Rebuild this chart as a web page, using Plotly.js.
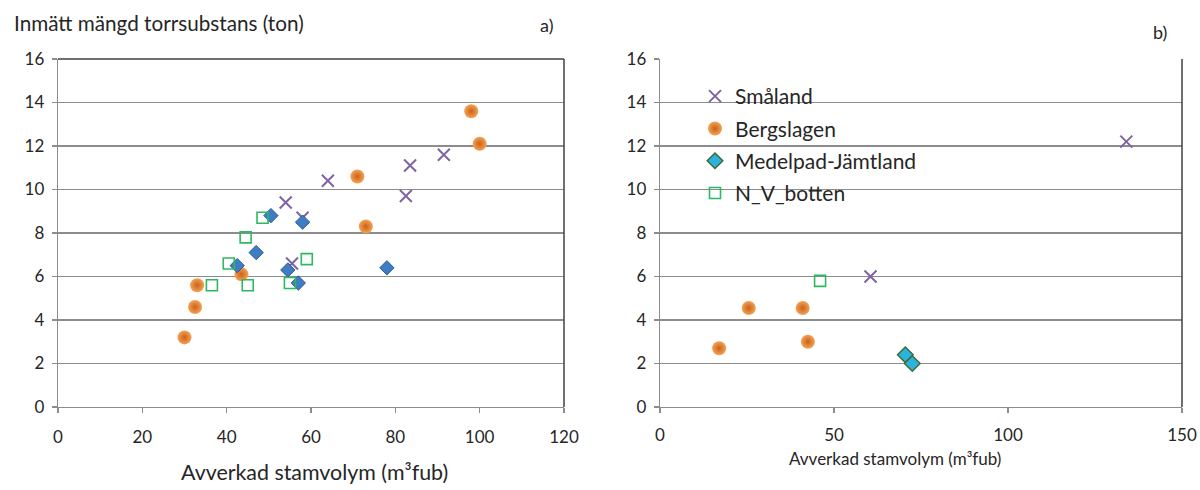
<!DOCTYPE html>
<html>
<head>
<meta charset="utf-8">
<script src="https://cdn.plot.ly/plotly-3.0.1.min.js"></script>
<style>html,body{margin:0;padding:0;background:#fff;}#chart{width:1200px;height:490px;}</style>
</head>
<body>
<div id="chart"></div>
<script>
// ---- Panel a) data ----
const smalandA_x = [64, 54, 83.5, 91.5, 82.5, 58, 55.5];
const smalandA_y = [10.4, 9.4, 11.1, 11.6, 9.7, 8.7, 6.6];
const bergslagenA_x = [98, 100, 71, 73, 43.5, 33, 32.5, 30];
const bergslagenA_y = [13.6, 12.1, 10.6, 8.3, 6.1, 5.6, 4.6, 3.2];
const medelpadA_x = [50.5, 58, 47, 42.5, 54.5, 57, 78];
const medelpadA_y = [8.8, 8.5, 7.1, 6.5, 6.3, 5.7, 6.4];
const nvbottenA_x = [48.5, 44.5, 40.5, 36.5, 45, 55, 59];
const nvbottenA_y = [8.7, 7.8, 6.6, 5.6, 5.6, 5.7, 6.8];

// ---- Panel b) data ----
const smalandB_x = [134, 60.5];
const smalandB_y = [12.2, 6.0];
const bergslagenB_x = [17, 25.5, 41, 42.5];
const bergslagenB_y = [2.7, 4.55, 4.55, 3.0];
const medelpadB_x = [70.5, 72.5];
const medelpadB_y = [2.4, 2.0];
const nvbottenB_x = [46];
const nvbottenB_y = [5.8];

const seriesNames = ['Småland', 'Bergslagen', 'Medelpad-Jämtland', 'N_V_botten'];
const xTicksA = [0, 20, 40, 60, 80, 100, 120];
const xTicksB = [0, 50, 100, 150];
const yTicks = [0, 2, 4, 6, 8, 10, 12, 14, 16];

const FONT = 'Lato, "Open Sans", sans-serif';
const TXT = '#262626';
const GRID = '#8c8c8c';

const smStyle = {symbol: 'x-thin', size: 12, color: '#8064A2', line: {color: '#8064A2', width: 2}};
const bgStyle = {symbol: 'circle', size: 14, color: '#F5A254', gradient: {type: 'radial', color: '#C8621A'}, line: {width: 0}};
const mdStyleA = {symbol: 'diamond', size: 11, color: '#3F7CC4', line: {color: '#2A5A94', width: 1}};
const mdStyleB = {symbol: 'diamond', size: 12, color: '#2BB3DC', line: {color: '#3E6B38', width: 1.5}};
const nvStyle = {symbol: 'square-open', size: 11, color: '#2EB862', line: {color: '#2EB862', width: 1.6}};

function tr(x, y, name, marker, xa, ya, show, grp) {
  return {type: 'scatter', mode: 'markers', x: x, y: y, name: name, marker: marker,
          xaxis: xa, yaxis: ya, showlegend: show, legendgroup: grp, hoverinfo: 'x+y'};
}

const data = [
  tr(smalandA_x, smalandA_y, seriesNames[0], smStyle, 'x', 'y', false, 'a1'),
  tr(bergslagenA_x, bergslagenA_y, seriesNames[1], bgStyle, 'x', 'y', false, 'a2'),
  tr(medelpadA_x, medelpadA_y, seriesNames[2], mdStyleA, 'x', 'y', false, 'a3'),
  tr(nvbottenA_x, nvbottenA_y, seriesNames[3], nvStyle, 'x', 'y', false, 'a4'),
  tr(smalandB_x, smalandB_y, seriesNames[0], smStyle, 'x2', 'y2', true, 'g1'),
  tr(bergslagenB_x, bergslagenB_y, seriesNames[1], bgStyle, 'x2', 'y2', true, 'g2'),
  tr(medelpadB_x, medelpadB_y, seriesNames[2], mdStyleB, 'x2', 'y2', true, 'g3'),
  tr(nvbottenB_x, nvbottenB_y, seriesNames[3], nvStyle, 'x2', 'y2', true, 'g4')
];

const W = 1200, H = 490;
const px = v => v / W, py = v => (H - v) / H;

function xax(domain, range, ticks, anchor, standoff) {
  return {domain: domain, range: range, tickvals: ticks, ticktext: ticks.map(String),
    showgrid: false, zeroline: false, showline: true, linecolor: GRID, linewidth: 1.3,
    ticks: 'outside', ticklen: 5, tickcolor: GRID, tickwidth: 1.3, ticklabelstandoff: standoff,
    tickfont: {family: FONT, size: 17, color: TXT}, anchor: anchor, fixedrange: true};
}
function yax(range, anchor) {
  return {domain: [py(407), py(59)], range: range, tickvals: yTicks, ticktext: yTicks.map(String),
    showgrid: true, gridcolor: GRID, gridwidth: 1.3, zeroline: false, showline: true,
    linecolor: GRID, linewidth: 1.3, ticks: 'outside', ticklen: 5, tickcolor: GRID, tickwidth: 1.3,
    ticklabelstandoff: 4, tickfont: {family: FONT, size: 17, color: TXT}, anchor: anchor, fixedrange: true};
}

const layout = {
  width: W, height: H,
  margin: {l: 0, r: 0, t: 0, b: 0},
  paper_bgcolor: '#ffffff', plot_bgcolor: '#ffffff',
  font: {family: FONT, color: TXT},
  xaxis: xax([px(58), px(564)], [0, 120], xTicksA, 'y', 9),
  yaxis: yax([0, 16], 'x'),
  xaxis2: xax([px(660), px(1182)], [0, 150], xTicksB, 'y2', 7),
  yaxis2: yax([0, 16], 'x2'),
  showlegend: true,
  legend: {x: px(695), y: py(76), xanchor: 'left', yanchor: 'top', bgcolor: 'rgba(0,0,0,0)',
    font: {family: FONT, size: 21, color: TXT}, tracegroupgap: 2, itemclick: false},
  shapes: [
    {type: 'line', xref: 'x domain', yref: 'y domain', x0: 0, x1: 1, y0: 1, y1: 1, line: {color: '#404040', width: 1.5}},
    {type: 'line', xref: 'x domain', yref: 'y domain', x0: 1, x1: 1, y0: 0, y1: 1, line: {color: '#404040', width: 1.5}},
    {type: 'line', xref: 'x2 domain', yref: 'y2 domain', x0: 1, x1: 1, y0: 0, y1: 1, line: {color: '#404040', width: 1.5}}
  ],
  annotations: [
    {text: 'Inmätt mängd torrsubstans (ton)', xref: 'paper', yref: 'paper', x: px(12), y: py(23),
     xanchor: 'left', yanchor: 'middle', showarrow: false, font: {family: FONT, size: 20.7, color: TXT}},
    {text: 'a)', xref: 'paper', yref: 'paper', x: px(546), y: py(25), xanchor: 'center', yanchor: 'middle',
     showarrow: false, font: {family: FONT, size: 18, color: TXT}},
    {text: 'b)', xref: 'paper', yref: 'paper', x: px(1160), y: py(32), xanchor: 'center', yanchor: 'middle',
     showarrow: false, font: {family: FONT, size: 18, color: TXT}},
    {text: 'Avverkad stamvolym (m³fub)', xref: 'paper', yref: 'paper', x: px(314), y: py(472), xanchor: 'center',
     yanchor: 'middle', showarrow: false, font: {family: FONT, size: 21.4, color: TXT}},
    {text: 'Avverkad stamvolym (m³fub)', xref: 'paper', yref: 'paper', x: px(895), y: py(458), xanchor: 'center',
     yanchor: 'middle', showarrow: false, font: {family: FONT, size: 17, color: TXT}}
  ]
};

Plotly.newPlot('chart', data, layout, {displayModeBar: false, staticPlot: true});
</script>
</body>
</html>
